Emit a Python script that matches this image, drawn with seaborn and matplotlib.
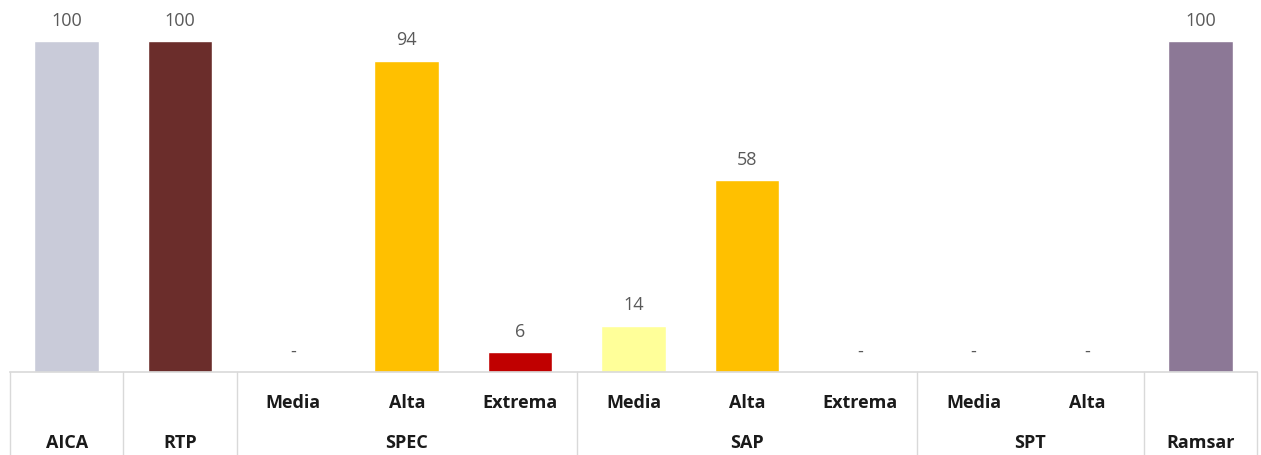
import matplotlib
matplotlib.use('Agg')
import matplotlib.pyplot as plt
import matplotlib.transforms as mtransforms
import seaborn as sns
import pandas as pd

# data
groups = ['AICA', 'RTP', 'SPEC', 'SPEC', 'SPEC', 'SAP', 'SAP', 'SAP', 'SPT', 'SPT', 'Ramsar']
levels = ['', '', 'Media', 'Alta', 'Extrema', 'Media', 'Alta', 'Extrema', 'Media', 'Alta', '']
values = [100, 100, 0, 94, 6, 14, 58, 0, 0, 0, 100]
colors = ['#C9CBD9', '#6B2D2B', '#FFC000', '#FFC000', '#C00000', '#FFFF99',
          '#FFC000', '#C00000', '#FFFF99', '#FFC000', '#8C7896']

# group spans (first slot, last slot) for the second label row
group_names = ['AICA', 'RTP', 'SPEC', 'SAP', 'SPT', 'Ramsar']
group_spans = [(0, 0), (1, 1), (2, 4), (5, 7), (8, 9), (10, 10)]

keys = [f'{g} {l}'.strip() for g, l in zip(groups, levels)]
df = pd.DataFrame({'key': keys, 'value': values})
palette = dict(zip(keys, colors))

sns.set_style('white')
plt.rcParams['font.family'] = ['Open Sans', 'DejaVu Sans']

W, H = 1261, 456
fig = plt.figure(figsize=(W / 100, H / 100), dpi=100)
ax = fig.add_axes([10 / W, (H - 373) / H, 1247 / W, 373 / H])

sns.barplot(data=df, x='key', y='value', hue='key', palette=palette, order=keys,
            hue_order=keys, width=0.57, legend=False, saturation=1, ax=ax)

ax.set_xlim(-0.5, len(keys) - 0.5)
ax.set_ylim(0, 112.7)
ax.set_xlabel('')
ax.set_ylabel('')
ax.set_xticks([])
ax.set_yticks([])
for s in ['top', 'left', 'right']:
    ax.spines[s].set_visible(False)
ax.spines['bottom'].set_color('#D9D9D9')
ax.spines['bottom'].set_linewidth(1.2)

# value labels
for i, v in enumerate(values):
    ax.annotate(str(v) if v else '-', (i, v), xytext=(0, 15.5),
                textcoords='offset points', ha='center', va='center',
                fontsize=13, color='#595959')

# category table below the axis
trans = mtransforms.blended_transform_factory(ax.transData, ax.transAxes)
depth = -83 / 373
for b in [-0.5, 0.5, 1.5, 4.5, 7.5, 9.5, 10.5]:
    ax.plot([b, b], [0, depth], color='#D9D9D9', lw=1.0, transform=trans, clip_on=False)

for i, l in enumerate(levels):
    if l:
        ax.text(i, -30 / 373, l, transform=trans, ha='center', va='center',
                fontsize=13, fontweight='bold', color='#1a1a1a')

for name, (a, b) in zip(group_names, group_spans):
    ax.text((a + b) / 2, -70 / 373, name, transform=trans, ha='center', va='center',
            fontsize=13, fontweight='bold', color='#1a1a1a')

fig.savefig('out.png', dpi=100)
